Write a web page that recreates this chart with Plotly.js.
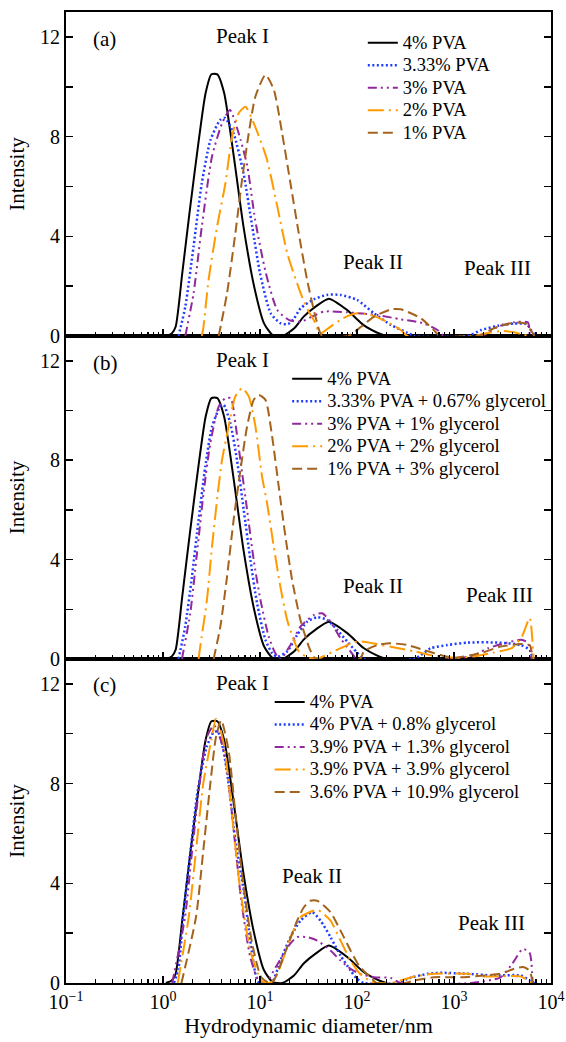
<!DOCTYPE html>
<html><head><meta charset="utf-8">
<script src="https://cdn.plot.ly/plotly-3.0.1.min.js"></script>
<style>html,body{margin:0;padding:0;background:#fff}#chart{width:566px;height:1042px}</style>
</head><body><div id="chart"></div>
<script>
// ---------- DATA (diameter in nm, intensity) ----------
// 4% PVA (same sample in all three panels)
const pva4_d = [1.07,1.23,1.35,1.58,1.91,2.34,2.75,3.16,3.63,4.27,5.37,6.76,8.71,11.0,13.5,17.0,22.4,28.2,38.0,51.3,79.4,117,174,200];
const pva4_I = [0,0.1,0.37,2.52,5.19,7.87,9.75,10.5,10.5,9.75,7.2,4.39,1.98,0.51,0.04,0,0.3,0.78,1.2,1.5,1.04,0.44,0.08,0];

// Panel (a)
const a_pva333_d = [1.445,1.698,2.065,2.512,3.09,3.89,4.365,5.37,6.76,8.32,10,12.9,16.2,19.5,22.4,26.3,35.9,49,67.6,100,150,224,331,389,1380,1905,2818,4169,5623,6310,6918];
const a_pva333_I = [0,1.18,3.59,6.13,7.87,8.67,8.75,8.1,6.53,4.39,2.52,0.91,0.52,0.48,0.7,1.12,1.47,1.65,1.65,1.45,0.91,0.44,0.13,0,0,0.24,0.41,0.5,0.48,0.2,0];
const a_pva3_d = [1.698,2.065,2.512,3.2,4.07,4.9,6.31,7.41,8.91,11.5,15.1,20,26.3,33.1,45.7,79.4,162,282,490,676,794,1905,2818,4169,5754,6026];
const a_pva3_I = [0,1.71,4.39,7.2,8.54,9.07,7.87,6.8,4.66,2.52,1.04,0.64,0.57,0.75,0.98,0.95,0.84,0.67,0.51,0.24,0,0,0.37,0.55,0.55,0];
const a_pva2_d = [2.512,2.6,2.95,3.61,4.4,5.15,6.03,7.08,8.91,11.7,15.1,19.1,26.3,31.6,36.3,41.7,50.1,72.4,100,138,204,282,331,1585,2239,3162,4169,5248,6310];
const a_pva2_I = [0,0.3,2.25,4.39,6.13,8.0,8.94,9.2,8.4,7.13,5.19,3.32,1.71,1.0,0.6,0.1,0.3,0.72,0.91,0.84,0.57,0.24,0,0,0.12,0.2,0.15,0.05,0];
const a_pva1_d = [3.75,4.57,5.57,6.53,7.66,8.97,11.4,13.9,16.9,20.6,25.1,30.6,37.3,43.8,81.3,110,150,224,282,457,617,724,1778,2570,4169,5495,6761];
const a_pva1_I = [0,1.71,4.12,6.27,8.14,9.61,10.48,9.88,8.14,6.13,4.12,2.25,0.78,0,0,0.37,0.78,1.07,1.07,0.71,0.24,0,0,0.31,0.54,0.48,0];

// Panel (b)
const b_g067_d = [1.445,1.694,1.986,2.328,2.729,3.199,3.89,4.217,4.943,5.794,6.792,7.96,9.33,11.38,13.34,15.0,19.05,24.15,30.62,38.9,49.3,62.5,79.4,100,117.5,389,575,851,1380,2818,4898,6026,6457];
const b_g067_I = [0,1.3,3.31,5.6,7.74,9.35,10.16,10.23,9.49,8.0,6.0,3.99,2.24,0.77,0.23,0.09,0.3,0.97,1.5,1.68,1.57,1.17,0.7,0.26,0,0,0.43,0.56,0.66,0.66,0.56,0.36,0];
const b_g1_d = [1.567,1.91,2.239,2.618,3.076,3.75,4.395,5.012,5.57,6.28,7.36,8.61,10.1,12.3,14.4,16.2,20.6,26.1,35.9,43.8,53.3,67.6,85.9,100,1000,1585,2239,3548,4898,5754,6310];
const b_g1_I = [0,1.84,4.25,6.67,8.69,10.16,10.5,10.5,9.49,8.0,6.0,3.99,2.38,0.9,0.23,0,0.56,1.3,1.77,1.84,1.5,0.83,0.3,0,0,0.15,0.43,0.66,0.77,0.66,0];
const b_g2_d = [2.328,2.421,2.838,3.199,3.606,4.055,4.753,5.57,6.53,7.656,8.974,10.5,11.83,13.87,16.22,19.05,22.28,25.12,31.62,41.69,56.23,74.13,89.13,112.2,158.5,251.2,398.1,631,1000,1585,2512,3981,5012,6026,6607];
const b_g2_I = [0,0.5,2.38,4.52,6.4,8.0,9.36,10.57,10.9,10.57,9.36,7.34,6.27,4.52,2.91,1.57,0.77,0.3,0.05,0.05,0.3,0.5,0.66,0.7,0.6,0.45,0.3,0.12,0.05,0.1,0.25,0.45,0.9,1.65,0];
const b_g3_d = [3.327,3.899,4.571,5.346,6.28,7.362,8.61,9.705,11.38,13.34,15.6,18.28,21.43,26.12,31.84,35.48,38.02,107.2,117.5,162.2,223.9,331.1,489.8,724.4,1000,1905,3020,4898,6026,6457];
const b_g3_I = [0,1.3,3.31,5.6,7.6,9.36,10.43,10.63,10.43,8.95,6.94,4.93,3.18,1.57,0.5,0.1,0,0,0.3,0.56,0.63,0.56,0.36,0.16,0.05,0.24,0.5,0.6,0.56,0];

// Panel (c)
const c_g08_d = [1.297,1.445,1.614,1.919,2.28,2.818,3.311,3.664,4.169,4.742,5.572,6.792,7.943,8.974,9.772,13.18,16.22,20.61,26.12,34.51,42.07,53.33,67.61,85.9,100,117.5,281.8,331.1,537,724.4,1380,2570,4898,6026,6761];
const c_g08_I = [0,0.6,2.64,5.3,7.73,9.47,10.05,10.1,9.4,8.0,5.72,3.71,1.7,0.37,0,0,0.9,1.84,2.5,2.84,2.5,1.84,1.1,0.5,0.17,0,0,0.17,0.37,0.41,0.37,0.3,0.3,0.1,0];
const c_g13_d = [1.245,1.687,1.995,2.382,2.825,3.357,3.981,4.539,5.395,6.412,7.943,9.886,11.48,14.55,20.42,24.15,30.62,38.9,53.33,67.61,85.9,107.2,149.6,223.9,281.8,1514,3020,3981,5129,6026,6457];
const c_g13_I = [0,2.64,5.3,8.0,9.87,10.34,9.7,8.67,6.0,3.31,1.04,0,0,0.64,1.57,1.84,1.84,1.7,1.3,0.9,0.57,0.37,0.23,0.2,0,0,0.23,0.77,1.37,1.2,0];
const c_g39_d = [1.419,1.841,2.188,2.6,3.162,3.516,3.89,4.345,5.176,6.138,7.943,10.3,12.02,13.87,17.58,21.43,26.12,35.89,39.81,53.33,67.61,85.9,107.2,138,158.5,223.9,281.8,389,616.6,1380,2042,4898,6310];
const c_g39_I = [0,2.64,5.3,8.0,9.8,10.6,10.2,9.34,6.66,4.0,1.3,0.1,0,0.1,1.04,1.98,2.64,2.91,2.93,2.5,1.7,0.9,0.37,0.07,0,0,0.1,0.26,0.37,0.37,0.26,0.26,0];
const c_g109_d = [1.549,2.188,2.6,3.076,3.516,3.981,4.742,5.623,6.699,8.318,10.3,12.59,13.87,19.05,24.15,28.31,33.11,38.9,53.33,67.61,85.9,107.2,138,158.5,316.2,389,616.6,1175,2042,3020,4169,5129,6026,6457];
const c_g109_I = [0,2.64,5.3,8.0,9.87,10.54,9.34,6.66,4.0,1.57,0.23,0,0.1,1.44,2.5,3.04,3.3,3.3,2.84,2.1,1.3,0.64,0.23,0,0,0.1,0.23,0.23,0.3,0.37,0.57,0.64,0.5,0];

const namesA = ["4% PVA","3.33% PVA","3% PVA","2% PVA","1% PVA"];
const namesB = ["4% PVA","3.33% PVA + 0.67% glycerol","3% PVA + 1% glycerol","2% PVA + 2% glycerol","1% PVA + 3% glycerol"];
const namesC = ["4% PVA","4% PVA + 0.8% glycerol","3.9% PVA + 1.3% glycerol","3.9% PVA + 3.9% glycerol","3.6% PVA + 10.9% glycerol"];

const xTickVals = [0.1,1,10,100,1000,10000];
const xTickText = ["10<sup>−1</sup>","10<sup>0</sup>","10<sup>1</sup>","10<sup>2</sup>","10<sup>3</sup>","10<sup>4</sup>"];
const yTickVals = [0,4,8,12];

// ---------- STYLE ----------
const FONT = "Liberation Serif";
const styles = [
  {color:"#000000", width:2, dash:"solid"},
  {color:"#1f3cff", width:2.5, dash:"2px,2.5px"},
  {color:"#92289e", width:2, dash:"9px,4px,2px,4px,2px,4px"},
  {color:"#ff9a00", width:2, dash:"16px,5px,2px,5px"},
  {color:"#a4631c", width:2, dash:"10px,5px"}
];

const panels = [
  {xa:"x3", ya:"y3", leg:"legend", names:namesA,
   data:[[pva4_d,pva4_I],[a_pva333_d,a_pva333_I],[a_pva3_d,a_pva3_I],[a_pva2_d,a_pva2_I],[a_pva1_d,a_pva1_I]]},
  {xa:"x2", ya:"y2", leg:"legend2", names:namesB,
   data:[[pva4_d,pva4_I],[b_g067_d,b_g067_I],[b_g1_d,b_g1_I],[b_g2_d,b_g2_I],[b_g3_d,b_g3_I]]},
  {xa:"x", ya:"y", leg:"legend3", names:namesC,
   data:[[pva4_d,pva4_I],[c_g08_d,c_g08_I],[c_g13_d,c_g13_I],[c_g39_d,c_g39_I],[c_g109_d,c_g109_I]]}
];

const traces = [];
panels.forEach((p,pi)=>{
  p.data.forEach((dd,i)=>{
    traces.push({
      x: dd[0], y: dd[1], type:"scatter", mode:"lines",
      name: '<span style="font-size:18.5px">' + p.names[i] + '</span>',
      xaxis:p.xa, yaxis:p.ya, legend:p.leg,
      legendgroup: p.leg + "_" + i,
      line: Object.assign({shape:"spline", smoothing:0.6}, styles[i]),
      hoverinfo:"skip"
    });
  });
});

const minorX = [];
[0.1,1,10,100,1000].forEach(b=>{ for(let k=2;k<=9;k++) minorX.push(b*k); });

function xAxis(anchor, showLabels){
  return {
    type:"log", range:[-1,4], anchor:anchor, domain:[0,1],
    tickmode:"array", tickvals:xTickVals, ticktext:xTickText,
    showticklabels:showLabels, ticks:"inside", ticklen:7, tickwidth:1.5, tickcolor:"#000",
    minor:{tickmode:"array", tickvals:minorX, ticks:"inside", ticklen:4, tickwidth:1.2, tickcolor:"#000", showgrid:false},
    showline:true, linewidth:2, linecolor:"#000", mirror:true,
    showgrid:false, zeroline:false, fixedrange:true,
    tickfont:{family:FONT, size:20, color:"#000"}
  };
}
function yAxis(domain){
  return {
    domain:domain, range:[0,13], anchor:"x",
    tickmode:"array", tickvals:yTickVals,
    ticks:"inside", ticklen:7, tickwidth:1.5, tickcolor:"#000",
    minor:{tickmode:"array", tickvals:[2,6,10], ticks:"inside", ticklen:7, tickwidth:1.5, tickcolor:"#000", showgrid:false},
    showline:true, linewidth:2, linecolor:"#000", mirror:"ticks",
    showgrid:false, zeroline:false, fixedrange:true,
    tickfont:{family:FONT, size:20, color:"#000"},
    title:{text:"Intensity", font:{family:FONT, size:21, color:"#000"}, standoff:10}
  };
}

const legFont = {family:FONT, size:15, color:"#000"};
function legend(x, y, gap){
  return {x:x, y:y, xanchor:"left", yanchor:"top", bgcolor:"rgba(0,0,0,0)", borderwidth:0,
          font:legFont, tracegroupgap:gap, traceorder:"normal", itemwidth:30};
}

function ann(text, x, y, yref, xref, xanchor){
  return {text:text, x:x, y:y, xref:xref||"x", yref:yref, showarrow:false,
          xanchor:xanchor||"center", yanchor:"middle", font:{family:FONT, size:21, color:"#000"}};
}

const layout = {
  width:566, height:1042,
  margin:{l:66, r:15, t:12, b:59},
  paper_bgcolor:"#fff", plot_bgcolor:"#fff",
  font:{family:FONT, color:"#000"},
  showlegend:true,
  xaxis: Object.assign(xAxis("y", true), {title:{text:"Hydrodynamic diameter/nm", font:{family:FONT, size:22, color:"#000"}, standoff:4}}),
  xaxis2: Object.assign(xAxis("y2", false), {matches:"x"}),
  xaxis3: Object.assign(xAxis("y3", false), {matches:"x"}),
  yaxis: yAxis([0,0.3337]),
  yaxis2: Object.assign(yAxis([0.3337,0.6663]), {anchor:"x2"}),
  yaxis3: Object.assign(yAxis([0.6663,1]), {anchor:"x3"}),
  legend: legend(0.612, 0.985, 0),
  legend2: legend(0.456, 0.639, 0),
  legend3: legend(0.42, 0.306, 2.5),
  annotations:[
    ann("(a)", -0.742, 11.9, "y3", "x3", "left"),
    ann("Peak I", 0.818, 12.05, "y3", "x3"),
    ann("Peak II", 2.16, 2.97, "y3", "x3"),
    ann("Peak III", 3.45, 2.73, "y3", "x3"),
    ann("(b)", -0.742, 11.92, "y2", "x2", "left"),
    ann("Peak I", 0.818, 12.04, "y2", "x2"),
    ann("Peak II", 2.16, 2.94, "y2", "x2"),
    ann("Peak III", 3.473, 2.58, "y2", "x2"),
    ann("(c)", -0.742, 11.95, "y", "x", "left"),
    ann("Peak I", 0.818, 12.03, "y", "x"),
    ann("Peak II", 1.541, 4.28, "y", "x"),
    ann("Peak III", 3.39, 2.39, "y", "x")
  ]
};

Plotly.newPlot("chart", traces, layout, {staticPlot:true, displayModeBar:false});
</script></body></html>
